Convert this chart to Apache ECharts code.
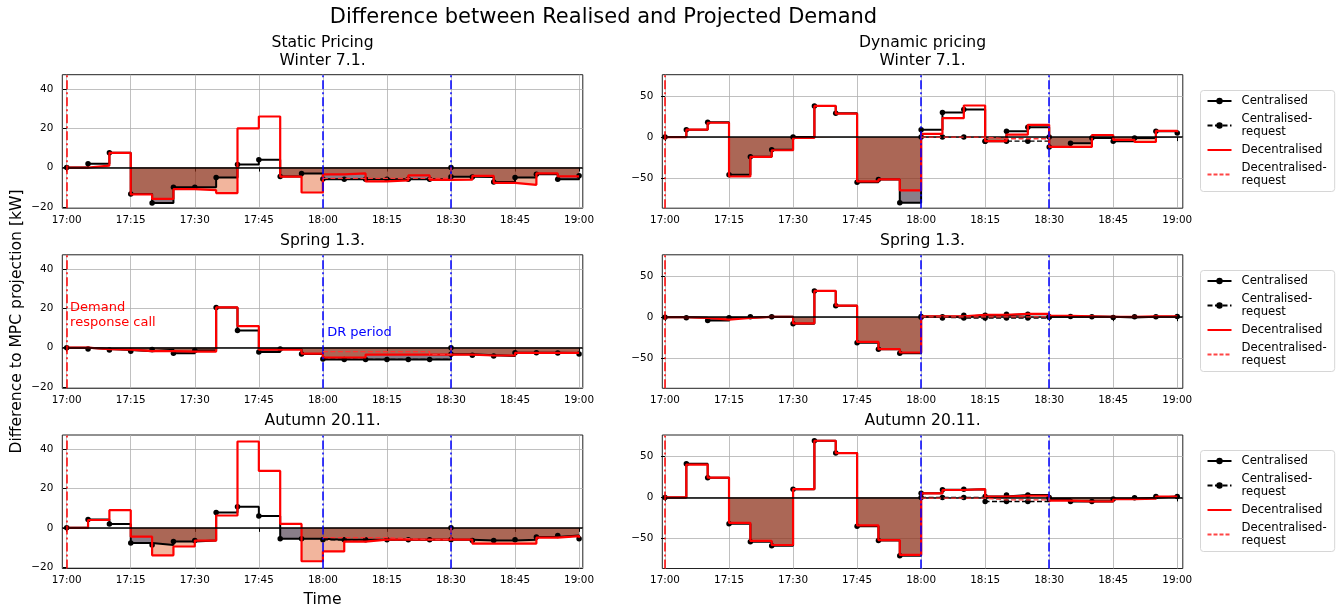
<!DOCTYPE html>
<html><head><meta charset="utf-8">
<script src="https://cdn.jsdelivr.net/npm/echarts@6/dist/echarts.min.js"></script>
<style>html,body{margin:0;padding:0;background:#fff}#chart{width:1338px;height:611px}</style>
</head><body><div id="chart"></div>
<script>
// ---------------- DATA ----------------
const times = [0,5,10,15,20,25,30,35,40,45,50,55,60,65,70,75,80,85,90,95,100,105,110,115,120];
const requestTimes = [60,65,70,75,80,85,90];
const xTickValues = [0,15,30,45,60,75,90,105,120];
const xTickLabels = ['17:00','17:15','17:30','17:45','18:00','18:15','18:30','18:45','19:00'];
const yTicksStatic = [-20,0,20,40];
const yTicksDynamic = [-50,0,50];
const callTime = 0;
const drStart = 60;
const drEnd = 90;

const mainTitle = 'Difference between Realised and Projected Demand';
const panelTitles = ['Static Pricing\nWinter 7.1.','Spring 1.3.','Autumn 20.11.','Dynamic pricing\nWinter 7.1.','Spring 1.3.','Autumn 20.11.'];
const seriesNames = ['Centralised','Centralised-request','Decentralised','Decentralised-request'];

const winterStaticCen    = [0,2,7.5,-13.5,-18,-10,-10,-5,1.5,4,-4.5,-3,-6,-6,-6,-6,-6,-6,-4.7,-4.8,-7.3,-5,-3.4,-6,-4.2];
const winterStaticCenReq = [-5.8,-6,-6,-6,-6,-6,0];
const winterStaticDec    = [0,1,7.5,-13.7,-16,-11,-11.5,-13,20,26,-4.6,-12.7,-3.5,-3,-7,-6.5,-4,-6.3,-6.2,-4.2,-7.8,-8.8,-3,-4.5,-4.5];
const winterStaticDecReq = [-5.5,-5.5,-5.5,-5.5,-5.5,-5.5,0];

const springStaticCen    = [0,-0.7,-1.2,-1.8,-1,-2.8,-1.4,20.4,8.7,-2.2,-0.7,-3.2,-6,-6,-6,-6,-6,-6,-3.3,-3.9,-4.3,-2.6,-2.6,-2.7,-3.2];
const springStaticCenReq = [-5.8,-6,-6,-6,-6,-6,0];
const springStaticDec    = [0,-0.8,-1,-1.8,-1.8,-2,-2,20.5,11,-1,-1,-3,-5,-5,-3.5,-3.5,-3.5,-3.5,-3.5,-4,-4,-2.7,-2.7,-2.7,-3];
const springStaticDecReq = [-2,-2,-2,-2,-2,-3.5,0];

const autumnStaticCen    = [0,4.3,2,-7.7,-8.7,-7,-6.5,7.8,10.7,6.1,-5.6,-5.6,-6,-6,-6,-6,-6,-6,-6,-6.5,-6.5,-6,-4.6,-3.9,-5.6];
const autumnStaticCenReq = [-6.1,-6,-6,-6,-6,-6,0];
const autumnStaticDec    = [0,4,9,-4.5,-14,-9.5,-6.5,6.3,44,29,2,-17,-12,-7,-6,-6,-6,-6,-6,-8,-8,-8,-5,-4.2,-5];
const autumnStaticDecReq = [-5,-5,-5,-5.5,-6,-6,0];

const winterDynCen    = [0,9,18,-46,-24,-15.5,0,38,29,-55,-51.5,-80,9,30,33.5,-5,7,12,-12,-7.5,-1,-5,-1,7,5];
const winterDynCenReq = [0,0,0,-5,-5,-5,0];
const winterDynDec    = [0,9,17.5,-48,-24,-16,-1,38,28.5,-54,-51.5,-65,4,23,38.5,-5,3,15,-12,-12,2.5,-3.5,-6,7.5,6];
const winterDynDecReq = [0,0,0,-2,-2,-2,0];

const springDynCen    = [0,-0.8,-4,-0.8,0.4,0.4,-8,32,14,-31,-39,-44,1,0.4,2.4,2.4,3.7,3.7,0.4,1,0.4,-0.4,0.4,0.4,1];
const springDynCenReq = [0,-1,-1,-1,-1,-1,0];
const springDynDec    = [0,-1,-3,-1,0.5,0.5,-7.5,32,14,-30,-39,-43,1,1,3,3,4,4,1.5,1,0.5,0.5,1,1,1];
const springDynDecReq = [0.5,0.5,0.5,0.5,0.5,0.5,0];

const autumnDynCen    = [0,41,24,-32,-54,-59,10,69,54,-35,-52.5,-71,5,9.4,10,1.2,3,3,-2,-5,-5,-2,-0.5,1,1];
const autumnDynCenReq = [0,0,0,-5,-5,-5,0];
const autumnDynDec    = [0,40,24,-31,-53,-58,10,69,54,-34,-52,-70,5,9,10,1,2,2,-4,-5,-5,-2,-1.5,1,1];
const autumnDynDecReq = [-1,-1,-1,-3,-3,-3,0];

// ---------------- LAYOUT ----------------
const panels = [
  {col:0,row:0,cen:winterStaticCen,cenReq:winterStaticCenReq,dec:winterStaticDec,decReq:winterStaticDecReq,static:true},
  {col:0,row:1,cen:springStaticCen,cenReq:springStaticCenReq,dec:springStaticDec,decReq:springStaticDecReq,static:true},
  {col:0,row:2,cen:autumnStaticCen,cenReq:autumnStaticCenReq,dec:autumnStaticDec,decReq:autumnStaticDecReq,static:true},
  {col:1,row:0,cen:winterDynCen,cenReq:winterDynCenReq,dec:winterDynDec,decReq:winterDynDecReq,static:false},
  {col:1,row:1,cen:springDynCen,cenReq:springDynCenReq,dec:springDynDec,decReq:springDynDecReq,static:false},
  {col:1,row:2,cen:autumnDynCen,cenReq:autumnDynCenReq,dec:autumnDynDec,decReq:autumnDynDecReq,static:false}
];
const FONT = 'DejaVu Sans';
const rowTops = [74.7, 254.8, 435];
const gridH = 133.5, gridW = 520.5;
const colLefts = [62.3, 662.3];
const xRange = [[-1.03,120.87],[-0.63,121.3]];
const yRange = [[-20.7,47.3],[-86.6,76]];
const titleTops = [[34,232,412],[34,232,412]];
const legendTops = [90.5, 270.5, 450.5];
const dashDot = [9,3,2,3];
const dashed = [5,2.5];
const greyFill = 'rgba(40,20,40,0.55)';
const salmonFill = 'rgba(222,70,10,0.4)';

const fmtMinus = v => String(v).replace('-', '\u2212');
const pts = (ts, vals) => ts.map((t,i) => [t, vals[i]]);
const negPart = (ts, vals) => ts.map((t,i) => [t, Math.min(vals[i], 0)]);

const grids = [], xAxes = [], yAxes = [], titles = [], series = [], staticCenIdx = [];
titles.push({text: mainTitle, left: 603.5, top: 6, textAlign:'center', padding:0,
  textStyle:{fontSize:21, fontWeight:'normal', color:'#000', fontFamily:FONT, lineHeight:24}});

panels.forEach((p, g) => {
  grids.push({left: colLefts[p.col], top: rowTops[p.row], width: gridW, height: gridH,
    show:true, borderColor:'#222', borderWidth:1, backgroundColor:'#fff', containLabel:false});
  xAxes.push({type:'value', gridIndex:g, min:xRange[p.col][0], max:xRange[p.col][1],
    axisLine:{show:false},
    axisTick:{show:true, length:4, lineStyle:{color:'#000', width:1}, customValues:xTickValues},
    axisLabel:{customValues:xTickValues, formatter: v => xTickLabels[xTickValues.indexOf(v)],
      fontSize:10.4, color:'#000', margin:7, fontFamily:FONT},
    splitLine:{show:true, lineStyle:{color:'#b0b0b0', width:0.8}}});
  const yt = p.col === 0 ? yTicksStatic : yTicksDynamic;
  yAxes.push({type:'value', gridIndex:g, min:yRange[p.col][0], max:yRange[p.col][1],
    axisLine:{show:false},
    axisTick:{show:true, length:4, lineStyle:{color:'#000', width:1}, customValues:yt},
    axisLabel:{customValues:yt, formatter: fmtMinus, fontSize:10.4, color:'#000', margin:9, fontFamily:FONT},
    splitLine:{show:true, lineStyle:{color:'#b0b0b0', width:0.8}}});
  titles.push({text: panelTitles[g], left: colLefts[p.col] + gridW/2, top: titleTops[p.col][p.row],
    textAlign:'center', padding:0,
    textStyle:{fontSize:15.6, lineHeight:18, fontWeight:'normal', color:'#000', fontFamily:FONT}});
});

// series: dynamic panels first (legend picks style from first series of a name)
const order = [3,4,5,0,1,2];
order.forEach(g => {
  const p = panels[g];
  const ax = {xAxisIndex:g, yAxisIndex:g};
  series.push(Object.assign({type:'line', step:'end', data:negPart(times, p.cen), symbol:'none',
    lineStyle:{width:0, opacity:0}, areaStyle:{color:greyFill, opacity:1}, silent:true, z:1,
    emphasis:{disabled:true}}, ax));
  series.push(Object.assign({type:'line', step:'end', data:negPart(times, p.dec), symbol:'none',
    lineStyle:{width:0, opacity:0}, areaStyle:{color:salmonFill, opacity:1}, silent:true, z:1,
    emphasis:{disabled:true}}, ax));
  series.push(Object.assign({type:'line', data:[], silent:true, z:2,
    markLine:{silent:true, symbol:'none', label:{show:false}, animation:false,
      data:[{yAxis:0, lineStyle:{color:'#000', width:1.6, type:'solid'}}]}}, ax));
  if (p.static) staticCenIdx.push(series.length);
  series.push(Object.assign({name:seriesNames[0], type:'line', step:'end', data:pts(times, p.cen),
    symbol:'circle', symbolSize:5.5, showAllSymbol:true, itemStyle:{color:'#000'},
    lineStyle:{color:'#000', width:2}, z:3, emphasis:{disabled:true}}, ax));
  series.push(Object.assign({name:seriesNames[1], type:'line', step:'end', data:pts(requestTimes, p.cenReq),
    symbol:'circle', symbolSize:5.5, showAllSymbol:true, itemStyle:{color:'#000'},
    lineStyle:{color:'#000', width:1.3, type:dashed}, z:3, emphasis:{disabled:true}}, ax));
  series.push(Object.assign({name:seriesNames[2], type:'line', step:'end', data:pts(times, p.dec),
    symbol:'none', itemStyle:{color:'#ff0000'},
    lineStyle:{color:'#ff0000', width:2.2}, z:4, emphasis:{disabled:true}}, ax));
  series.push(Object.assign({name:seriesNames[3], type:'line', step:'end', data:pts(requestTimes, p.decReq),
    symbol:'none', itemStyle:{color:'#ff3333'},
    lineStyle:{color:'#ff3333', width:1.3, type:dashed}, z:5, emphasis:{disabled:true}}, ax));
  series.push(Object.assign({type:'line', data:[], silent:true, z:10,
    markLine:{silent:true, symbol:'none', label:{show:false}, animation:false,
      data:[{xAxis:callTime, lineStyle:{color:'#ff0000', width:1.5, type:dashDot}},
            {xAxis:drStart, lineStyle:{color:'#0000ff', width:1.5, type:dashDot}},
            {xAxis:drEnd, lineStyle:{color:'#0000ff', width:1.5, type:dashDot}}]}}, ax));
});

const legendData = [
  {name: seriesNames[0]},
  {name: seriesNames[1]},
  {name: seriesNames[2], itemStyle:{opacity:0}},
  {name: seriesNames[3], itemStyle:{opacity:0}, lineStyle:{color:'#ff4444', type:[4,2]}}
];
const legends = legendTops.map(t => ({
  orient:'vertical', left:1200.5, top:t, itemWidth:24, itemHeight:8, itemGap:5,
  padding:[4,8,4,6], borderColor:'#d6d6d6', borderWidth:1, borderRadius:3,
  backgroundColor:'rgba(255,255,255,0.9)', selectedMode:false,
  data: legendData, formatter: n => n.replace('-', '-\n'),
  textStyle:{fontSize:11.7, lineHeight:13, color:'#000', fontFamily:FONT, padding:[0,0,0,5]}
}));

const chart = echarts.init(document.getElementById('chart'), null, {renderer:'canvas'});
chart.setOption({
  animation:false,
  backgroundColor:'#fff',
  textStyle:{fontFamily:FONT},
  title: titles,
  grid: grids,
  xAxis: xAxes,
  yAxis: yAxes,
  legend: legends,
  visualMap: [{type:'piecewise', show:false, dimension:0, seriesIndex: staticCenIdx,
    pieces:[{lt:drStart, color:'#000'}, {gte:drStart, lt:drEnd, color:'rgba(0,0,0,0)'}, {gte:drEnd, color:'#000'}]}],
  series: series
});

// annotations (text positions in data coordinates of the spring static panel)
const callLabelAt = [0.8, 16.5];
const drLabelAt = [61, 7.5];
const pCall = chart.convertToPixel({gridIndex:1}, callLabelAt);
const pDr = chart.convertToPixel({gridIndex:1}, drLabelAt);
chart.setOption({graphic:[
  {type:'text', x:pCall[0], y:pCall[1], silent:true,
    style:{text:'Demand\nresponse call', fill:'#ff0000', font:'13px ' + FONT, lineHeight:15,
      textAlign:'left', textVerticalAlign:'middle', align:'left', verticalAlign:'middle'}},
  {type:'text', x:pDr[0], y:pDr[1], silent:true,
    style:{text:'DR period', fill:'#0000ff', font:'13px ' + FONT,
      textAlign:'left', textVerticalAlign:'middle', align:'left', verticalAlign:'middle'}},
  {type:'text', x:17, y:321.5, rotation:Math.PI/2, silent:true,
    style:{text:'Difference to MPC projection [kW]', fill:'#000', font:'15.6px ' + FONT,
      textAlign:'center', textVerticalAlign:'middle', align:'center', verticalAlign:'middle'}},
  {type:'text', x:322.5, y:600, silent:true,
    style:{text:'Time', fill:'#000', font:'15.6px ' + FONT,
      textAlign:'center', textVerticalAlign:'middle', align:'center', verticalAlign:'middle'}}
]});
</script></body></html>
